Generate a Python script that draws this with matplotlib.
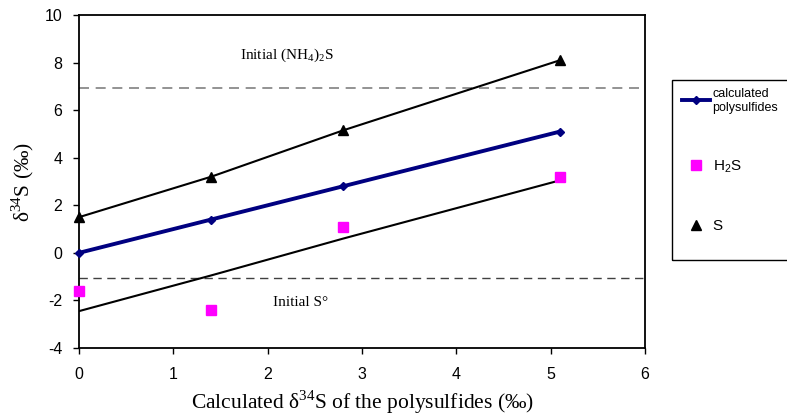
import matplotlib
matplotlib.use("Agg")
import matplotlib.pyplot as plt
from matplotlib.patches import Rectangle

plt.rcParams["axes.unicode_minus"] = False

# Data
x_vals = [0, 1.4, 2.8, 5.1]
calc_poly = [0, 1.4, 2.8, 5.1]
h2s = [-1.6, -2.4, 1.1, 3.2]
s_vals = [1.5, 3.2, 5.15, 8.1]
lower_trend = [-2.45, -0.95, 0.6, 3.05]
initial_nh4s = 6.95
initial_s0 = -1.05
x_ticks = [0, 1, 2, 3, 4, 5, 6]
y_ticks = [-4, -2, 0, 2, 4, 6, 8, 10]

sans = ["Liberation Sans", "DejaVu Sans"]
serif = ["Liberation Serif", "DejaVu Serif"]

fig = plt.figure(figsize=(7.87, 4.18), dpi=100)
ax = fig.add_axes([79/787, 1-348/418, (645-79)/787, (348-15)/418])

ax.axhline(initial_nh4s, color="#808080", lw=1.2, ls=(0, (6, 4)), zorder=1)
ax.axhline(initial_s0, color="#404040", lw=1.0, ls=(0, (6, 4)), zorder=1)

ax.plot(x_vals, s_vals, color="black", lw=1.5, zorder=2)
ax.plot(x_vals, lower_trend, color="black", lw=1.5, zorder=2)
l1, = ax.plot(x_vals, calc_poly, color="#000080", lw=2.8, marker="D", ms=4.5,
              label="calculated\npolysulfides", zorder=3, clip_on=False)
l2, = ax.plot(x_vals, h2s, ls="none", marker="s", color="#FF00FF", ms=6.5,
              label=r"H$_{\mathregular{2}}$S", zorder=4, clip_on=False)
l3, = ax.plot(x_vals, s_vals, ls="none", marker="^", color="black", ms=6.5,
              label="S", zorder=4, clip_on=False)

ax.set_xlim(0, 6)
ax.set_ylim(-4, 10)
ax.set_xticks(x_ticks)
ax.set_yticks(y_ticks)
ax.tick_params(direction="out", length=4, width=1, labelsize=11.5)
ax.tick_params(axis="x", pad=10)
ax.tick_params(axis="y", pad=8)
for lab in ax.get_xticklabels() + ax.get_yticklabels():
    lab.set_family(sans)
for sp in ax.spines.values():
    sp.set_linewidth(1.3)

ax.set_xlabel(r"Calculated δ$^{\mathregular{34}}$S of the polysulfides (‰)",
              family=serif, fontsize=15.5, labelpad=4)
ax.set_ylabel(r"δ$^{\mathregular{34}}$S (‰)", family=serif, fontsize=15.5, labelpad=6)

ax.text(2.2, 8.3, r"Initial (NH$_{\mathregular{4}}$)$_{\mathregular{2}}$S", family=serif,
        fontsize=11, ha="center", va="center")
ax.text(2.35, -2.07, "Initial S°", family=serif, fontsize=11, ha="center", va="center")

fig.patches.append(Rectangle((672/787, 1-260/418), 0.2, (260-80)/418,
                             transform=fig.transFigure, fill=False,
                             edgecolor="black", lw=1.0))
leg = fig.legend(handles=[l1, l2, l3], loc="upper left",
                 bbox_to_anchor=(682/787, 1-88/418), frameon=False, borderpad=0,
                 borderaxespad=0,
                 prop={"family": sans, "size": 11}, labelspacing=2.9,
                 handlelength=1.8, handletextpad=0.2)
leg.get_texts()[0].set_fontsize(9)

fig.savefig("out.png", dpi=100)
